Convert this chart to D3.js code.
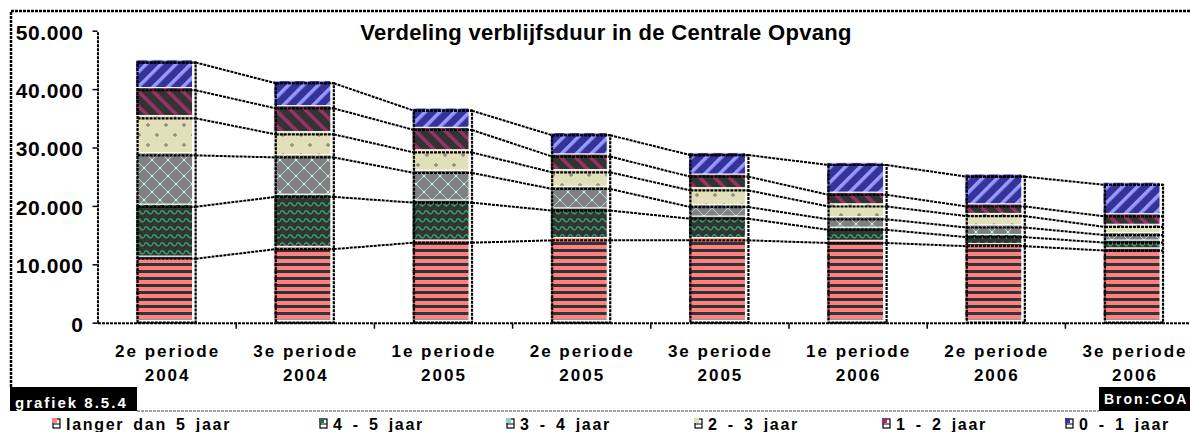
<!DOCTYPE html>
<html>
<head>
<meta charset="utf-8">
<script src="https://cdn.jsdelivr.net/npm/d3@7"></script>
<style>
  body { margin: 0; background: #fff; }
  svg { display: block; font-family: "Liberation Sans", Arial, sans-serif; font-weight: bold; }
</style>
</head>
<body>
<svg id="chart" width="1190" height="432"></svg>
<script>
const periodes = ["2e periode", "3e periode", "1e periode", "2e periode", "3e periode", "1e periode", "2e periode", "3e periode"];
const jaren = ["2004", "2004", "2005", "2005", "2005", "2006", "2006", "2006"];
const reeksen = ["langer dan 5 jaar", "4 - 5 jaar", "3 - 4 jaar", "2 - 3 jaar", "1 - 2 jaar", "0 - 1 jaar"];

const langerDan5Jaar = [10950, 12600, 13700, 14100, 14100, 13650, 13100, 12350];
const vierTotVijf   = [8900, 8950, 6850, 5100, 3700, 2250, 1550, 1350];
const drieTotVier   = [8800, 6750, 5100, 3700, 2000, 1800, 1650, 1300];
const tweeTotDrie   = [6350, 3950, 3500, 2850, 2850, 2200, 1950, 1400];
const eenTotTwee    = [4800, 4450, 3850, 2700, 2350, 2000, 1650, 1800];
const nulTotEen     = [4750, 4300, 3300, 3650, 3700, 5100, 5100, 5400];

const yTicks = [0, 10000, 20000, 30000, 40000, 50000];

const kolommen = [langerDan5Jaar, vierTotVijf, drieTotVier, tweeTotDrie, eenTotTwee, nulTotEen];
const tabel = periodes.map((p, i) => {
  const rij = { i: i };
  reeksen.forEach((r, k) => { rij[r] = kolommen[k][i]; });
  return rij;
});

const svg = d3.select("#chart");
const defs = svg.append("defs");

function pattern(id, w, h, transform) {
  const p = defs.append("pattern").attr("id", id)
    .attr("patternUnits", "userSpaceOnUse")
    .attr("width", w).attr("height", h);
  if (transform) p.attr("patternTransform", transform);
  return p;
}

// langer dan 5 jaar: horizontal stripes
let p = pattern("p0", 7, 7);
p.append("rect").attr("width", 7).attr("height", 7).attr("fill", "#ff8080");
p.append("rect").attr("y", 4).attr("width", 7).attr("height", 3).attr("fill", "#333");

// 4 - 5 jaar: green waves on dark
p = pattern("p1", 8, 8);
p.append("rect").attr("width", 8).attr("height", 8).attr("fill", "#333");
p.append("path").attr("d", "M0,5 Q2,1 4,4 T8,5").attr("fill", "none")
  .attr("stroke", "#339966").attr("stroke-width", 1.7);

// 3 - 4 jaar: gray diamonds on light cyan
p = pattern("p2", 16, 16);
p.append("rect").attr("width", 16).attr("height", 16).attr("fill", "#ccffff");
[[8, 8], [0, 0], [16, 0], [0, 16], [16, 16]].forEach(c => {
  p.append("path")
    .attr("d", `M${c[0]},${c[1] - 5.8}L${c[0] + 5.8},${c[1]}L${c[0]},${c[1] + 5.8}L${c[0] - 5.8},${c[1]}Z`)
    .attr("fill", "#808080").attr("stroke", "#808080")
    .attr("stroke-width", 2.5).attr("stroke-linejoin", "round");
});

// 2 - 3 jaar: beige with small plus signs
p = pattern("p3", 18, 20);
p.append("rect").attr("width", 18).attr("height", 20).attr("fill", "#e2e0b8");
[[4, 5], [13, 15]].forEach(c => {
  p.append("path").attr("d", `M${c[0]},${c[1] - 2}V${c[1] + 2}M${c[0] - 2},${c[1]}H${c[0] + 2}`)
    .attr("stroke", "#8a8a80").attr("stroke-width", 1.3);
});

// 1 - 2 jaar: purple diagonal stripes on dark
p = pattern("p4", 10.5, 10.5, "rotate(-45)");
p.append("rect").attr("width", 10.5).attr("height", 10.5).attr("fill", "#333");
p.append("rect").attr("width", 3.5).attr("height", 10.5).attr("fill", "#993366");

// 0 - 1 jaar: light blue diagonal stripes on navy
p = pattern("p5", 10.5, 10.5, "rotate(45)");
p.append("rect").attr("width", 10.5).attr("height", 10.5).attr("fill", "#333399");
p.append("rect").attr("width", 3.5).attr("height", 10.5).attr("fill", "#9999ff");

const legendaKleur = ["#ff8080", "#2d6b4a", "#8fcfcf", "#e2e0b8", "#993366", "#3333aa"];

const x0 = 97.5, stap = 138.2;
const x = d3.scaleBand().domain(d3.range(periodes.length)).range([x0, x0 + stap * periodes.length]);
const xGrens = d3.scaleLinear().domain([0, periodes.length]).range([x0, x0 + stap * periodes.length]);
const y = d3.scaleLinear().domain([0, 50000]).range([322.7, 30.7]);
const bw = x.bandwidth() * 0.42;
const bx = i => x(i) + (x.bandwidth() - bw) / 2;

const fmt = d3.formatLocale({ decimal: ",", thousands: ".", grouping: [3], currency: ["€", ""] }).format(",");

const stapels = d3.stack().keys(reeksen)(tabel);

const lijn = { stroke: "#000", "stroke-width": 2, "stroke-dasharray": "3,1", fill: "none" };
function stijl(sel, s) { Object.keys(s).forEach(k => sel.attr(k, s[k])); return sel; }

// outer frame
stijl(svg.append("path").attr("d", "M11,387V11H1190"), lijn).attr("stroke-width", 2.5);

// title
svg.append("text").attr("x", 606).attr("y", 40).attr("text-anchor", "middle")
  .attr("font-size", 22).attr("letter-spacing", 0.3)
  .text("Verdeling verblijfsduur in de Centrale Opvang");

// bar fills (rendered slightly up-left of their outline)
const gBars = svg.append("g");
stapels.forEach((s, k) => {
  gBars.selectAll(null).data(s).enter().append("rect")
    .attr("x", (d, i) => bx(i) - 2)
    .attr("y", d => y(d[1]) - 2.7)
    .attr("width", bw - 1)
    .attr("height", d => y(d[0]) - y(d[1]))
    .attr("fill", `url(#p${k})`)
    .attr("stroke", "#fff").attr("stroke-width", 1);
});

// outlines, boundaries and series lines
const gLines = svg.append("g");
tabel.forEach((d, i) => {
  const top = y(stapels[stapels.length - 1][i][1]);
  stijl(gLines.append("rect").attr("x", bx(i)).attr("y", top)
    .attr("width", bw).attr("height", y(0) - top), lijn).attr("stroke-width", 2.2);
});
stapels.forEach(s => {
  s.forEach((d, i) => {
    stijl(gLines.append("line").attr("x1", bx(i)).attr("x2", bx(i) + bw)
      .attr("y1", y(d[1])).attr("y2", y(d[1])), lijn).attr("stroke-width", 2.2);
    if (i < s.length - 1) {
      stijl(gLines.append("line").attr("x1", bx(i) + bw).attr("x2", bx(i + 1))
        .attr("y1", y(d[1])).attr("y2", y(s[i + 1][1])), lijn);
    }
  });
});

// y axis
const yAxis = svg.append("g").attr("transform", `translate(${x0},0)`)
  .call(d3.axisLeft(y).tickValues(yTicks).tickFormat(fmt).tickSize(5).tickSizeOuter(0));
stijl(yAxis.select(".domain"), lijn).attr("stroke-width", 2);
yAxis.selectAll(".tick line").attr("stroke", "#000").attr("stroke-width", 1.5);
yAxis.selectAll(".tick text").attr("x", -14).attr("dy", "0.4em")
  .attr("font-size", 21).attr("font-family", "Liberation Sans, Arial, sans-serif")
  .attr("font-weight", "bold").attr("letter-spacing", 0.6).attr("fill", "#000");

// x axis: line with ticks between categories
const xAxis = svg.append("g").attr("transform", `translate(0,${y(0)})`)
  .call(d3.axisBottom(xGrens).tickValues(d3.range(1, periodes.length)).tickFormat("").tickSize(6).tickSizeOuter(0));
stijl(xAxis.select(".domain"), lijn).attr("stroke-width", 2);
xAxis.selectAll(".tick line").attr("stroke", "#000").attr("stroke-width", 1.5);

// category labels
const xLab = svg.append("g").attr("transform", `translate(0,${y(0)})`)
  .call(d3.axisBottom(x).tickSize(0).tickFormat(""));
xLab.select(".domain").remove();
xLab.selectAll(".tick").each(function (i) {
  const t = d3.select(this).append("text").attr("fill", "#000")
    .attr("text-anchor", "middle").attr("font-size", 17).attr("letter-spacing", 2)
    .attr("font-family", "Liberation Sans, Arial, sans-serif").attr("font-weight", "bold");
  t.append("tspan").attr("x", 1).attr("y", 34).text(periodes[i]);
  t.append("tspan").attr("x", 1).attr("y", 58).text(jaren[i]);
});

// footer boxes
svg.append("rect").attr("x", 10).attr("y", 387).attr("width", 127).attr("height", 24).attr("fill", "#000");
svg.append("text").attr("x", 15).attr("y", 408).attr("fill", "#fff")
  .attr("font-size", 15).attr("letter-spacing", 2).text("grafiek 8.5.4");
svg.append("rect").attr("x", 1099).attr("y", 387).attr("width", 100).attr("height", 24).attr("fill", "#000");
svg.append("text").attr("x", 1104).attr("y", 404).attr("fill", "#fff")
  .attr("font-size", 14).attr("letter-spacing", 2).text("Bron:COA");
stijl(svg.append("line").attr("x1", 137).attr("x2", 1099).attr("y1", 411).attr("y2", 411), lijn)
  .attr("stroke-width", 1.2).attr("stroke", "#444");

// legend
const legX = [53, 320, 507, 695, 883, 1066];
const leg = svg.append("g").selectAll("g").data(reeksen).enter().append("g")
  .attr("transform", (d, k) => `translate(${legX[k]},0)`);
leg.append("rect").attr("x", 0).attr("y", 419).attr("width", 7).attr("height", 9)
  .attr("fill", "#fff").attr("stroke", "#000").attr("stroke-width", 1.2);
leg.append("rect").attr("x", -1).attr("y", 418).attr("width", 5).attr("height", 5)
  .attr("fill", (d, k) => legendaKleur[k]);
leg.append("line").attr("x1", 0).attr("x2", 7).attr("y1", 424).attr("y2", 424)
  .attr("stroke", "#000").attr("stroke-width", 1);
leg.append("text").attr("x", 13).attr("y", 430).attr("font-size", 16)
  .attr("letter-spacing", 1.7).attr("word-spacing", 3).text(d => d);
</script>
</body>
</html>
